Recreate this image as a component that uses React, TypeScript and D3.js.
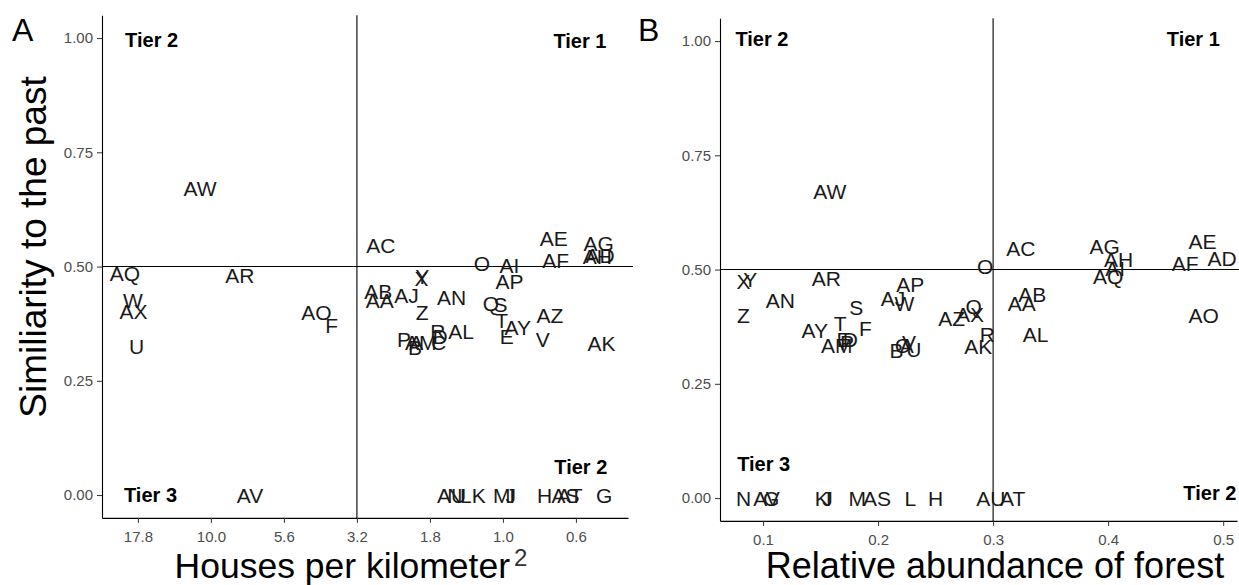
import { useEffect, useRef } from 'react'
import * as d3 from 'd3'

// sites A..Z, AA..AZ
const sites = [
  'A', 'B', 'C', 'D', 'E', 'F', 'G', 'H', 'I', 'J', 'K', 'L', 'M',
  'N', 'O', 'P', 'Q', 'R', 'S', 'T', 'U', 'V', 'W', 'X', 'Y', 'Z',
  'AA', 'AB', 'AC', 'AD', 'AE', 'AF', 'AG', 'AH', 'AI', 'AJ', 'AK', 'AL', 'AM',
  'AN', 'AO', 'AP', 'AQ', 'AR', 'AS', 'AT', 'AU', 'AV', 'AW', 'AX', 'AY', 'AZ',
]

const similarity = [
  0.335, 0.323, 0.334, 0.347, 0.346, 0.372, 0, 0, 0, 0, 0, 0, 0,
  0, 0.507, 0.34, 0.42, 0.357, 0.418, 0.381, 0.325, 0.341, 0.425, 0.474, 0.479, 0.4,
  0.425, 0.446, 0.547, 0.524, 0.562, 0.513, 0.551, 0.523, 0.503, 0.436, 0.332, 0.357, 0.333,
  0.433, 0.4, 0.468, 0.485, 0.481, 0, 0, 0, 0, 0.671, 0.402, 0.366, 0.394,
]

const houses = [
  1.98, 2.0, 1.66, 1.64, 0.97, 3.86, 0.45, 0.72, 0.93, 0.94, 1.21, 1.34, 1.01,
  1.46, 1.18, 2.18, 1.1, 1.67, 1.02, 1.01, 17.97, 0.73, 18.5, 1.9, 1.89, 1.89,
  2.64, 2.67, 2.62, 0.465, 0.67, 0.66, 0.47, 0.475, 0.95, 2.14, 0.46, 1.39, 1.91,
  1.5, 4.35, 0.95, 19.7, 7.96, 0.61, 0.59, 1.5, 7.35, 10.9, 18.4, 0.89, 0.69,
]

const forest = [
  0.225, 0.216, 0.221, 0.176, 0.17, 0.189, 0.107, 0.25, 0.157, 0.156, 0.151, 0.228, 0.182,
  0.083, 0.293, 0.173, 0.283, 0.295, 0.181, 0.167, 0.231, 0.227, 0.223, 0.083, 0.089, 0.083,
  0.325, 0.334, 0.324, 0.499, 0.482, 0.467, 0.397, 0.409, 0.406, 0.213, 0.287, 0.337, 0.164,
  0.115, 0.483, 0.228, 0.4, 0.155, 0.199, 0.317, 0.298, 0.103, 0.158, 0.28, 0.145, 0.264,
]

const simTicks = [0, 0.25, 0.5, 0.75, 1]
const houseTickExp = [1.25, 1, 0.75, 0.5, 0.25, 0, -0.25] // log10 houses
const forestTicks = [0.1, 0.2, 0.3, 0.4, 0.5]

const tierTextA = ['Tier 2', 'Tier 1', 'Tier 2', 'Tier 3']
const tierHousesA = [15.96, 0.545, 0.541, 16.1]
const tierSimA = [0.996, 0.993, 0.062, 0]
const tierTextB = ['Tier 2', 'Tier 1', 'Tier 3', 'Tier 2']
const tierForestB = [0.099, 0.474, 0.1006, 0.4884]
const tierSimB = [1.006, 1.006, 0.076, 0.011]

const width = 1239
const height = 585

const App = () => {
  const svgRef = useRef<SVGSVGElement>(null)

  useEffect(() => {
    const font = "'Liberation Sans', Arial, Helvetica, sans-serif"
    const svgEl = d3.select(svgRef.current)
    svgEl.selectAll('*').remove()

    const drawPanel = (p: any) => {
      const g = svgEl.append('g')
      const [x0, x1] = p.x.range()
      const [y0, y1] = p.y.range()

      // reference lines
      g.append('line')
        .attr('x1', x0).attr('x2', x1 + 5)
        .attr('y1', p.y(0.5)).attr('y2', p.y(0.5))
        .attr('stroke', '#000').attr('stroke-width', 1.1)
      g.append('line')
        .attr('x1', p.x(p.refX)).attr('x2', p.x(p.refX))
        .attr('y1', y0).attr('y2', y1)
        .attr('stroke', '#000').attr('stroke-width', 1.1)

      // site labels
      g.append('g')
        .selectAll('text')
        .data(sites)
        .join('text')
        .attr('x', (d, i) => p.x(p.xs[i]))
        .attr('y', (d, i) => p.y(similarity[i]))
        .attr('dy', '0.36em')
        .attr('text-anchor', 'middle')
        .style('font-family', font)
        .style('font-size', '21px')
        .style('fill', '#1a1a1a')
        .text((d) => d)

      // tier labels
      g.append('g')
        .selectAll('text')
        .data(p.tierText)
        .join('text')
        .attr('x', (d, i) => p.x(p.tierX[i]))
        .attr('y', (d, i) => p.y(p.tierY[i]))
        .attr('dy', '0.36em')
        .attr('text-anchor', 'middle')
        .style('font-family', font)
        .style('font-weight', 'bold')
        .style('font-size', '20px')
        .style('fill', '#000')
        .text((d) => d)

      // y axis
      g.append('g')
        .attr('transform', `translate(${x0},0)`)
        .call(d3.axisLeft(p.y).tickValues(simTicks).tickFormat(d3.format('.2f')).tickSize(5).tickSizeOuter(0).tickPadding(4))
        .call((a) => a.select('.domain').attr('stroke', '#000').attr('stroke-width', 1.1))
        .call((a) => a.selectAll('.tick line').attr('stroke', '#333'))
        .call((a) =>
          a.selectAll('.tick text')
            .style('font-family', font)
            .style('font-size', '15px')
            .attr('fill', '#4d4d4d')
        )

      // x axis
      g.append('g')
        .attr('transform', `translate(0,${y0})`)
        .call(d3.axisBottom(p.x).tickValues(p.xTicks).tickFormat(d3.format('.1f')).tickSize(5).tickSizeOuter(0).tickPadding(8))
        .call((a) => a.select('.domain').attr('stroke', '#000').attr('stroke-width', 1.1))
        .call((a) => a.selectAll('.tick line').attr('stroke', '#333'))
        .call((a) =>
          a.selectAll('.tick text')
            .style('font-family', font)
            .style('font-size', '15px')
            .attr('fill', '#4d4d4d')
        )

      // panel letter
      g.append('text')
        .attr('x', p.letterX)
        .attr('y', 41)
        .style('font-family', font)
        .style('font-size', '32px')
        .style('fill', '#000')
        .text(p.letter)
    }

    const xA = d3.scaleLog().domain([23.6, 0.373]).range([102, 628])
    const yA = d3.scaleLinear().domain([-0.05, 1.05]).range([517.9, 15.2])
    drawPanel({
      x: xA,
      y: yA,
      xs: houses,
      refX: Math.pow(10, 0.5),
      xTicks: houseTickExp.map((e) => Math.pow(10, e)),
      tierText: tierTextA,
      tierX: tierHousesA,
      tierY: tierSimA,
      letter: 'A',
      letterX: 12,
    })

    const xB = d3.scaleLinear().domain([0.0626, 0.512]).range([720, 1237])
    const yB = d3.scaleLinear().domain([-0.05, 1.05]).range([520.9, 18.2])
    drawPanel({
      x: xB,
      y: yB,
      xs: forest,
      refX: 0.3,
      xTicks: forestTicks,
      tierText: tierTextB,
      tierX: tierForestB,
      tierY: tierSimB,
      letter: 'B',
      letterX: 638,
    })

    // axis titles
    const xTitleA = svgEl.append('text')
      .attr('x', 351)
      .attr('y', 578)
      .attr('text-anchor', 'middle')
      .style('font-family', font)
      .style('font-size', '35.5px')
      .style('fill', '#000')
    xTitleA.append('tspan').text('Houses per kilometer')
    xTitleA.append('tspan')
      .attr('dx', 4)
      .attr('dy', -12)
      .style('font-size', '24px')
      .style('fill', '#333')
      .text('2')

    svgEl.append('text')
      .attr('x', 995)
      .attr('y', 578)
      .attr('text-anchor', 'middle')
      .style('font-family', font)
      .style('font-size', '36px')
      .style('fill', '#000')
      .text('Relative abundance of forest')

    svgEl.append('text')
      .attr('transform', 'translate(46,247) rotate(-90)')
      .attr('text-anchor', 'middle')
      .style('font-family', font)
      .style('font-size', '37px')
      .style('fill', '#000')
      .text('Similiarity to the past')
  }, [])

  return (
    <svg
      ref={svgRef}
      width={width}
      height={height}
      style={{ position: 'absolute', left: 0, top: 0, background: '#fff', display: 'block' }}
    />
  )
}

export default App
